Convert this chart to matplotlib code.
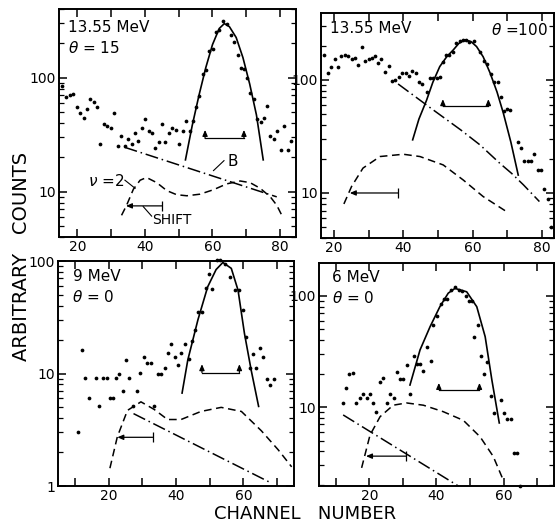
import matplotlib
matplotlib.use('Agg')
import matplotlib.pyplot as plt
from matplotlib.ticker import LogLocator, MultipleLocator, FuncFormatter, NullFormatter

plt.rcParams['font.family'] = ['DejaVu Sans']
plt.rcParams['mathtext.fontset'] = 'dejavusans'

# ---- 13.55 MeV, theta = 15 ----
a_ch = [15.6, 16.7, 17.8, 18.8, 19.8, 20.9, 21.9, 22.9, 23.9, 24.9, 25.8, 26.7, 27.9, 28.9,
        29.9, 31.0, 32.1, 33.0, 34.0, 35.0, 36.1, 37.0, 38.1, 39.2, 40.0, 41.1, 42.1, 43.1,
        44.1, 45.1, 46.1, 47.1, 48.1, 49.1, 50.1, 51.2, 52.1, 53.3, 54.2, 55.1, 56.0, 57.1,
        58.1, 59.1, 60.1, 61.1, 62.0, 63.2, 64.2, 65.4, 66.4, 67.4, 68.5, 69.4, 70.2, 71.2,
        72.2, 73.2, 74.2, 75.2, 76.2, 77.1, 78.1, 79.2, 80.2, 81.2, 82.2, 83.2]
a_counts = [85, 68, 71, 72, 55, 49, 44, 53, 65, 61, 55, 26, 39, 38,
            36, 49, 25, 31, 25, 29, 26, 33, 28, 36, 43, 34, 33, 24,
            27, 39, 27, 33, 36, 35, 26, 34, 42, 34, 42, 55, 69, 107,
            117, 171, 180, 253, 264, 314, 298, 236, 204, 158, 121, 119, 99, 73,
            65, 43, 41, 44, 56, 31, 29, 34, 23, 38, 23, 28]
a_fit_ch = [52, 54, 56, 58, 60, 62, 63.5, 65, 67, 69, 71, 73, 75]
a_fit = [19, 38, 70, 122, 195, 270, 298, 280, 225, 150, 88, 47, 19]
a_bg_ch = [34, 79]
a_bg = [24.5, 9]
a_nu_ch = [33.1, 34.6, 36.6, 38.6, 40.5, 43.5, 46.5, 49.4, 52.4, 56.3, 60.3, 64.2, 68.2,
           71.1, 74.1, 77.1, 79.0, 80.5]
a_nu = [6.2, 7.6, 10.5, 12.6, 13.3, 12.0, 10.2, 9.4, 9.2, 9.5, 10.4, 11.7, 12.4,
        12.0, 10.7, 9.0, 7.6, 6.2]

# ---- 13.55 MeV, theta = 100 ----
b_ch = [17.2, 18.2, 19.3, 20.3, 21.2, 22.2, 23.2, 24.1, 25.1, 26.1, 27.0, 28.2, 29.1, 30.1,
        30.9, 31.8, 32.8, 33.7, 34.7, 35.8, 36.8, 37.6, 38.7, 39.7, 40.7, 41.6, 42.6, 43.7,
        44.5, 45.4, 46.8, 47.8, 48.7, 49.7, 50.5, 51.4, 52.4, 53.3, 54.3, 55.2, 56.2, 57.2,
        58.1, 58.9, 60.3, 62.2, 63.1, 64.1, 65.2, 66.2, 67.2, 68.1, 68.9, 69.9, 70.8, 73.0,
        73.9, 74.8, 75.8, 76.8, 77.7, 78.7, 79.7, 80.6, 81.6, 82.5]
b_counts = [166, 115, 131, 152, 130, 163, 166, 161, 152, 157, 135, 195, 146, 152,
            157, 163, 141, 152, 118, 133, 97, 99, 107, 115, 115, 108, 119, 115,
            95, 91, 78, 104, 104, 104, 107, 144, 166, 166, 175, 211, 220, 226,
            223, 217, 220, 175, 148, 137, 113, 95, 95, 71, 53, 55, 54, 28,
            25, 19, 19, 19, 22, 16, 16, 10.8, 8.9, 5.0]
b_fit_ch = [42.7, 44.5, 46.7, 48.5, 50.5, 52.5, 54.4, 56.0, 57.8, 59.5, 61.1, 63.0, 65.0,
            67.0, 68.8, 71.0, 73.1]
b_fit = [29.5, 45, 66, 95, 131, 160, 184, 210, 226, 218, 197, 160, 115, 78, 51, 28, 14.4]
b_bg_ch = [38.5, 48.0, 56.6, 62.1, 67.8, 71.2, 74.6, 79.2]
b_bg = [92, 56, 36, 26.6, 18.3, 14.9, 11.8, 8.4]
b_nu_ch = [22.9, 25.1, 28.4, 33.3, 40.0, 44.8, 51.5, 57.3, 63.0, 70.2]
b_nu = [8.0, 11.4, 16.6, 21, 22, 21, 17.7, 13, 9.3, 6.7]

# ---- 9 MeV, theta = 0 ----
c_ch = [10.9, 12.2, 13.1, 14.2, 16.2, 17.2, 18.3, 19.5, 20.3, 21.3, 22.2, 23.2, 24.3, 25.2,
        26.2, 27.2, 28.4, 29.4, 30.4, 31.4, 32.6, 33.6, 34.6, 35.6, 36.6, 37.6, 38.6, 39.6,
        40.6, 41.6, 42.6, 43.8, 44.8, 45.6, 46.6, 47.6, 48.8, 49.8, 50.8, 52.1, 53.1, 54.4,
        56.0, 57.4, 58.6, 59.9, 60.8, 61.8, 62.8, 63.8, 64.8, 65.8, 67.0, 68.0, 69.0]
c_counts = [3.0, 16.2, 9.1, 6.1, 9.1, 5.1, 9.1, 9.1, 6.1, 6.1, 9.1, 10, 7.0, 13.2,
            9.1, 5.1, 7.0, 10.2, 14.1, 12.3, 12.3, 5.1, 10, 10, 11.1, 15.1, 18.3, 14.1,
            12, 15.3, 18.2, 13.4, 19.6, 24.4, 35.5, 35.5, 57, 76.5, 56, 102, 102, 95,
            72, 55, 55, 37, 21, 11.1, 14.9, 11.1, 17, 13.9, 8.9, 7.9, 8.9]
c_fit_ch = [41.8, 43.5, 46.5, 49.4, 51.9, 53.9, 56.4, 58.4, 60.3, 62.3, 64.5]
c_fit = [6.7, 13.2, 30, 59, 84, 97, 86, 55, 22.7, 10.7, 5.1]
c_bg_ch = [27.4, 67.8]
c_bg = [4.4, 1.08]
c_nu_ch = [20.4, 22.6, 25.6, 29.6, 33.5, 37.5, 41.5, 47.4, 53.4, 59.4, 65.3, 70.3, 74.3]
c_nu = [1.44, 2.74, 4.7, 5.6, 4.8, 3.9, 3.9, 4.6, 5.0, 4.6, 3.1, 2.1, 1.48]

# ---- 6 MeV, theta = 0 ----
d_ch = [12.1, 13.0, 14.0, 15.0, 16.0, 17.2, 18.2, 19.2, 20.2, 21.2, 22.0, 23.2, 24.2, 25.2,
        26.2, 27.2, 28.1, 29.1, 30.1, 31.1, 32.1, 33.3, 34.3, 35.1, 36.1, 37.1, 38.3, 39.1,
        40.1, 41.3, 42.2, 43.2, 44.4, 45.5, 46.6, 47.6, 48.8, 49.8, 50.6, 51.2, 52.5, 53.2,
        54.2, 55.1, 56.2, 57.1, 59.1, 60.1, 61.1, 62.1, 63.1, 64.1, 65.0]
d_counts = [10.8, 14.9, 19.8, 20.3, 10.8, 12, 13.1, 12, 13.1, 10.9, 9.0, 16.9, 18.1, 10.9,
            13, 12, 20.8, 18, 18, 23.8, 13, 28.8, 24.4, 24.6, 21.1, 34.9, 25.9, 54.8,
            66, 84, 93, 93, 113, 120, 113, 111, 99, 91, 91, 42.5, 55, 28.8,
            19.8, 25.3, 12.7, 8.8, 11.7, 8.8, 7.8, 7.8, 3.9, 3.9, 1.95]
d_fit_ch = [32.1, 35.1, 38.1, 41.0, 43.5, 45.5, 49.0, 52.0, 54.5, 56.5, 58.7]
d_fit = [15.8, 32.7, 53, 80, 106, 117, 109, 80, 43, 17.5, 7.2]
d_bg_ch = [12.2, 47.0]
d_bg = [8.5, 1.91]
d_nu_ch = [17.7, 20.2, 23.2, 27.1, 31.1, 36.1, 42.0, 48.0, 53.0, 56.9, 59.9]
d_nu = [2.84, 5.6, 8.2, 10.4, 10.9, 10.4, 9.1, 7.6, 5.4, 3.6, 2.2]


def setup(ax, xlim, ylim):
    ax.set_yscale('log')
    ax.set_xlim(*xlim)
    ax.set_ylim(*ylim)
    ax.xaxis.set_major_locator(MultipleLocator(10))
    ax.xaxis.set_major_formatter(FuncFormatter(lambda v, p: '%d' % v if round(v) % 20 == 0 else ''))
    ax.yaxis.set_major_locator(LogLocator(base=10))
    ax.yaxis.set_minor_locator(LogLocator(base=10, subs=range(2, 10)))
    ax.yaxis.set_major_formatter(FuncFormatter(lambda v, p: '%g' % v))
    ax.yaxis.set_minor_formatter(NullFormatter())
    ax.tick_params(which='both', direction='in', top=True, right=True, labelsize=10, color='k')
    ax.tick_params(which='major', length=6, width=1.1, pad=2)
    ax.tick_params(which='minor', length=3.5, width=0.9)
    for s in ax.spines.values():
        s.set_linewidth(1.4)


def panel(ax, ch, counts, fit_ch, fit, bg_ch, bg, nu_ch, nu):
    ax.plot(ch, counts, 'o', ms=2.7, mew=0, color='k', clip_on=False)
    ax.plot(fit_ch, fit, '-', color='k', lw=1.2)
    ax.plot(bg_ch, bg, color='k', lw=1.1, ls=(0, (8.5, 2.5, 1, 2.5)))
    ax.plot(nu_ch, nu, color='k', lw=1.1, ls=(0, (5, 3)))


def bracket(ax, x0, x1, y, ytip):
    ax.plot([x0, x1], [y, y], color='k', lw=0.9)
    for x in (x0, x1):
        ax.annotate('', xy=(x, ytip), xytext=(x, y),
                    arrowprops=dict(arrowstyle='-|>,head_length=0.35,head_width=0.15',
                                    color='k', lw=0.9, shrinkA=0, shrinkB=0))


def shift(ax, x0, x1, y):
    ax.annotate('', xy=(x0, y), xytext=(x1, y),
                arrowprops=dict(arrowstyle='-|>,head_length=0.35,head_width=0.15',
                                color='k', lw=0.9, shrinkA=0, shrinkB=0))
    ax.plot([x1], [y], marker='|', ms=7, mew=0.9, color='k')


fig = plt.figure(figsize=(5.56, 5.24), dpi=100)
ax1 = fig.add_axes([0.1061, 0.5477, 0.4263, 0.4351])
ax2 = fig.add_axes([0.5773, 0.5458, 0.4191, 0.4294])
ax3 = fig.add_axes([0.1043, 0.0725, 0.4245, 0.4294])
ax4 = fig.add_axes([0.5737, 0.0725, 0.4227, 0.4256])

setup(ax1, (14.6, 84.7), (4, 400))
setup(ax2, (16.3, 83.4), (4, 390))
setup(ax3, (5, 75), (1, 100))
setup(ax4, (5, 75), (1.95, 198))

panel(ax1, a_ch, a_counts, a_fit_ch, a_fit, a_bg_ch, a_bg, a_nu_ch, a_nu)
panel(ax2, b_ch, b_counts, b_fit_ch, b_fit, b_bg_ch, b_bg, b_nu_ch, b_nu)
panel(ax3, c_ch, c_counts, c_fit_ch, c_fit, c_bg_ch, c_bg, c_nu_ch, c_nu)
panel(ax4, d_ch, d_counts, d_fit_ch, d_fit, d_bg_ch, d_bg, d_nu_ch, d_nu)

bracket(ax1, 57.8, 69.3, 29.4, 34.8)
bracket(ax2, 51.4, 64.5, 59, 67.5)
bracket(ax3, 47.7, 58.8, 10.2, 12.1)
bracket(ax4, 40.7, 52.8, 14.4, 16.5)

shift(ax1, 34.4, 45.1, 7.5)
shift(ax2, 24.6, 38.5, 10)
shift(ax3, 22.6, 33.1, 2.71)
shift(ax4, 19.0, 30.9, 3.62)

# labels inside the first panel
ax1.text(64.3, 18.2, 'B', fontsize=11, va='center', ha='left')
ax1.plot([60.3, 63.4], [15.3, 18.7], color='k', lw=0.8)
ax1.text(34.0, 12.3, r'$\nu$ =2', fontsize=11, va='center', ha='right')
ax1.plot([34.1, 37.1], [12.6, 10.7], color='k', lw=0.8)
ax1.text(42.1, 5.6, 'SHIFT', fontsize=10, va='center', ha='left')
ax1.plot([39.5, 42.0], [7.4, 6.1], color='k', lw=0.8)

# energy / angle labels
ax1.text(0.038, 0.92, '13.55 MeV', transform=ax1.transAxes, fontsize=11, va='center')
ax1.text(0.038, 0.829, r'$\theta$ = 15', transform=ax1.transAxes, fontsize=11, va='center')
ax2.text(0.039, 0.933, '13.55 MeV', transform=ax2.transAxes, fontsize=11, va='center')
ax2.text(0.974, 0.924, r'$\theta$ =100', transform=ax2.transAxes, fontsize=11, va='center', ha='right')
ax3.text(0.064, 0.929, '9 MeV', transform=ax3.transAxes, fontsize=11, va='center')
ax3.text(0.059, 0.84, r'$\theta$ = 0', transform=ax3.transAxes, fontsize=11, va='center')
ax4.text(0.055, 0.933, '6 MeV', transform=ax4.transAxes, fontsize=11, va='center')
ax4.text(0.055, 0.843, r'$\theta$ = 0', transform=ax4.transAxes, fontsize=11, va='center')

fig.text(0.038, 0.511, 'ARBITRARY   COUNTS', rotation=90, fontsize=14, ha='center', va='center')
fig.text(0.549, 0.019, 'CHANNEL   NUMBER', fontsize=13, ha='center', va='center')

fig.savefig('out.png', dpi=100)
